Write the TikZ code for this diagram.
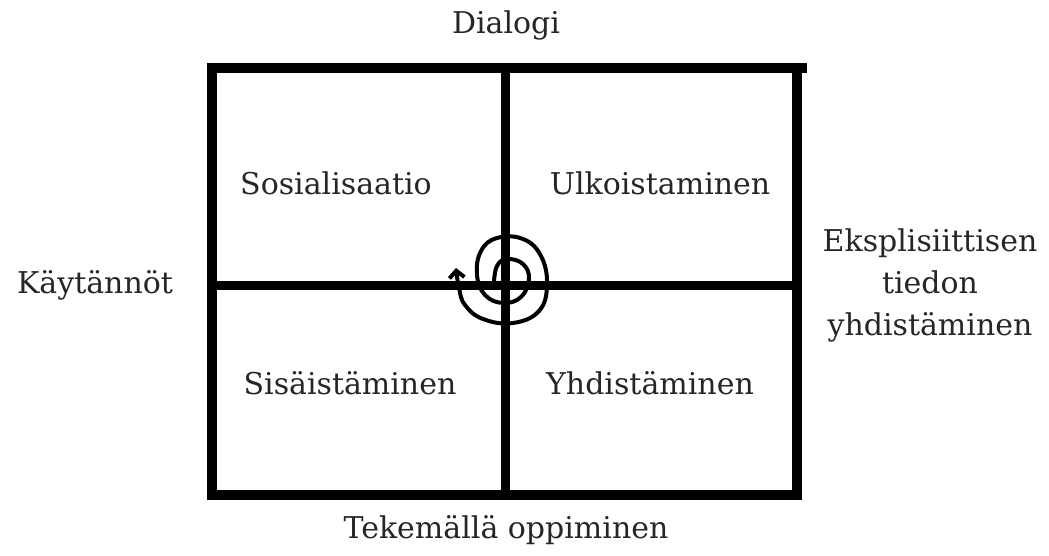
\documentclass[tikz,border=0pt]{standalone}
\usepackage{fontspec}
\setmainfont{DejaVu Serif}
\usetikzlibrary{arrows.meta}
\begin{document}
\begin{tikzpicture}[x=1pt,y=-1pt,
  frame/.style={line width=9.5pt,line cap=rect,black},
  lbl/.style={font=\fontsize{30}{42}\selectfont,text=black!85,inner sep=0pt,align=center},
  spiral/.style={line width=4pt,line cap=round,line join=round,black}]
\useasboundingbox (0,0) rectangle (1049,556);
\coordinate (tl) at (212,68);
\coordinate (tr) at (797,68);
\coordinate (bl) at (212,495);
\coordinate (br) at (797,495);
\coordinate (mt) at (505.5,68);
\coordinate (mb) at (505.5,495);
\coordinate (ml) at (212,285.5);
\coordinate (mr) at (797,285.5);
\draw[frame] (tl) -- (802,68);
\draw[frame] (tl) -- (bl) -- (br) -- (tr);
\draw[frame] (mt) -- (mb);
\draw[frame] (ml) -- (mr);
\node[lbl] (dialogi) at (506,25) {Dialogi};
\node[lbl] (kaytannot) at (95,285) {Käytännöt};
\node[lbl] (eksp) at (930,285) {Eksplisiittisen\\tiedon\\yhdistäminen};
\node[lbl] (tekemalla) at (506,530) {Tekemällä oppiminen};
\node[lbl] (sos) at (336,183) {Sosialisaatio};
\node[lbl] (ulk) at (660,183) {Ulkoistaminen};
\node[lbl] (sis) at (350,383) {Sisäistäminen};
\node[lbl] (yhd) at (650,383) {Yhdistäminen};
\draw[spiral,-{Straight Barb[length=7pt,width=15pt,line width=4pt]}]
  plot[smooth,tension=0.7] coordinates {(494,282) (497,266) (507,259) (523,264) (529,279) (521,297) (503,303) (485,295) (477,275) (481,251) (497,238) (523,239) (541,256) (547,285) (539,311) (513,323) (483,319) (465,305) (459,288) (456,268)};
\end{tikzpicture}
\end{document}
